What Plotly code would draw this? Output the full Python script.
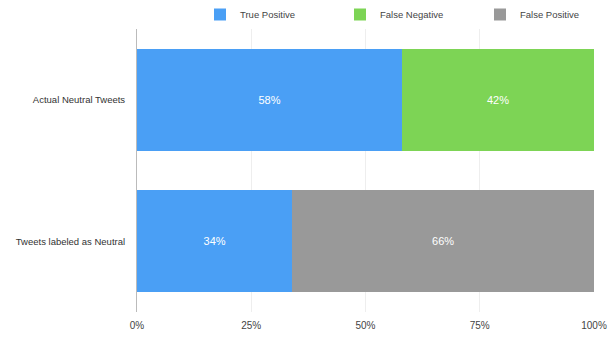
import plotly.graph_objects as go

categories = ["Tweets labeled as Neutral", "Actual Neutral Tweets"]
true_positive = [34, 58]
false_negative = [0, 42]
false_positive = [66, 0]
tick_vals = [0, 25, 50, 75, 100]
tick_text = ["0%", "25%", "50%", "75%", "100%"]

FONT = "Liberation Sans, Arial, sans-serif"

series = [
    ("True Positive", true_positive, "#4a9ff5"),
    ("False Negative", false_negative, "#7dd455"),
    ("False Positive", false_positive, "#999999"),
]

fig = go.Figure()
for name, vals, color in series:
    fig.add_trace(go.Bar(
        name=name,
        y=categories,
        x=vals,
        orientation="h",
        marker=dict(color=color, line=dict(width=0)),
        text=[f"{v}%" if v else "" for v in vals],
        textposition="inside",
        insidetextanchor="middle",
        textfont=dict(color="white", size=11, family=FONT),
        hoverinfo="skip",
    ))

fig.update_layout(
    barmode="stack",
    bargap=0.28,
    width=613,
    height=338,
    margin=dict(l=137, r=19, t=29, b=26, autoexpand=False),
    paper_bgcolor="white",
    plot_bgcolor="white",
    font=dict(family=FONT, size=9.5, color="#333333"),
    showlegend=True,
    legend=dict(
        orientation="h",
        xref="container", yref="container",
        x=200 / 613, xanchor="left",
        y=1.0, yanchor="top",
        entrywidth=95,
        font=dict(size=9.5, color="#444444"),
        itemwidth=30,
        traceorder="normal",
    ),
    xaxis=dict(
        range=[0, 100],
        tickvals=tick_vals,
        ticktext=tick_text,
        showgrid=True,
        gridcolor="#eeeeee",
        gridwidth=1,
        zeroline=False,
        showline=False,
        tickfont=dict(size=10, color="#444444"),
        ticks="",
        ticklabelstandoff=6,
        fixedrange=True,
    ),
    yaxis=dict(
        showline=True,
        linecolor="#bbbbbb",
        linewidth=1,
        ticks="",
        tickfont=dict(size=9.5, color="#333333"),
        ticklabelstandoff=9,
        showgrid=False,
        fixedrange=True,
    ),
)

fig.write_html("out.html")
